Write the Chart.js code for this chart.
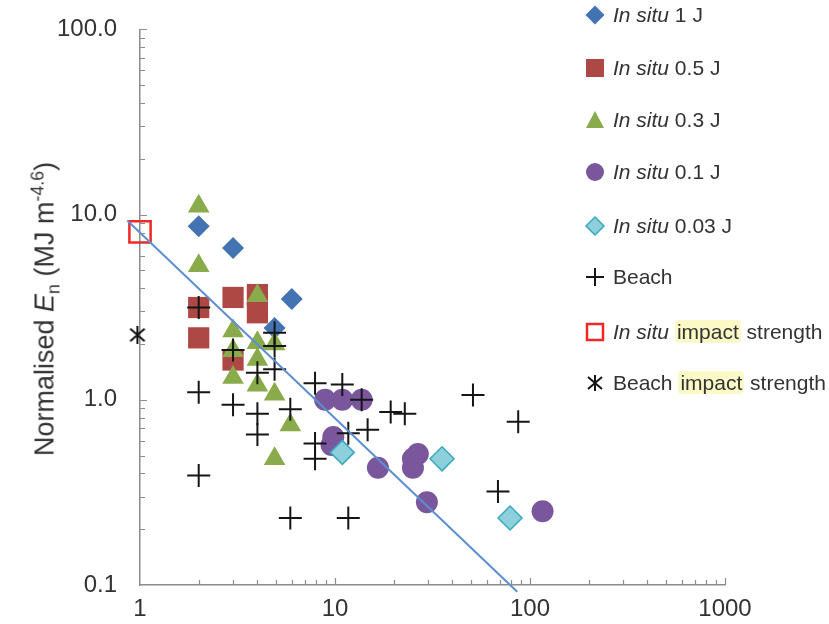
<!DOCTYPE html>
<html>
<head>
<meta charset="utf-8">
<script src="https://cdn.jsdelivr.net/npm/chart.js@4.4.1/dist/chart.umd.min.js"></script>
<style>
  html, body { margin: 0; padding: 0; background: #fff; }
  #wrap { position: relative; width: 829px; height: 624px; font-family: "Liberation Sans", Arial, sans-serif; color: #333; }
  #chart { position: absolute; left: 0; top: 0; }
  #ytitle { position: absolute; left: 45px; top: 309px; transform: translate(-50%, -50%) rotate(-90deg);
            white-space: nowrap; font-size: 27px; }
  #ytitle sub, #ytitle sup { font-size: 0.66em; line-height: 0; }
  #legend { position: absolute; left: 583px; top: 0; width: 246px; height: 400px; font-size: 21px; }
  .item { position: absolute; left: 0; height: 24px; display: flex; align-items: center; white-space: nowrap; }
  .item svg { width: 24px; height: 24px; margin-right: 6px; flex: none; }
  .hl { background: #fbf9c6; border-radius: 4px; padding: 0 2px; }
</style>
</head>
<body>
<div id="wrap">
  <canvas id="chart" width="829" height="624"></canvas>
  <div id="ytitle">Normalised <i>E</i><sub>n</sub> (MJ m<sup>-4.6</sup>)</div>
  <div id="legend"></div>
</div>
<script>
// axis ticks
const xTicks = [1, 10, 100, 1000];
const yTicks = [0.1, 1, 10, 100];

// in situ measurements by impact energy
const j1X = [2, 3, 6, 4.9];
const j1Y = [8.65, 6.6, 3.5, 2.44];
const j05X = [2, 2, 3, 3, 4, 4];
const j05Y = [3.15, 2.16, 3.57, 1.64, 3.7, 2.95];
const j03X = [2, 2, 3, 3, 3, 4, 4, 4, 4, 4.9, 4.9, 4.9, 5.9];
const j03Y = [11.1, 5.3, 2.35, 1.84, 1.32, 3.65, 2.03, 1.65, 1.2, 2.0, 1.07, 0.48, 0.73];
const j01X = [8.9, 10.9, 13.7, 9.8, 9.6, 16.6, 25.1, 26.6, 25.1, 29.6, 116];
const j01Y = [1.0, 1.0, 1.0, 0.63, 0.57, 0.43, 0.48, 0.51, 0.43, 0.28, 0.25];
const j003X = [10.9, 35.4, 79];
const j003Y = [0.52, 0.48, 0.23];

// beach measurements
const beachX = [2, 2, 2, 3, 3, 4, 4, 4, 4.9, 4.9, 4.9, 5.9, 5.9, 7.9, 7.9, 7.9,
                10.9, 11.7, 14.7, 11.7, 13.7, 19.3, 22.8, 51, 87, 68.5];
const beachY = [3.15, 1.1, 0.39, 1.86, 0.94, 1.40, 0.84, 0.65, 2.3, 1.95, 1.46, 0.89, 0.23, 1.23, 0.58, 0.48,
                1.21, 0.66, 0.69, 0.23, 1.0, 0.86, 0.84, 1.06, 0.76, 0.32];

// impact strengths
const inSituImpactX = [1];
const inSituImpactY = [8.07];
const beachImpactX = [0.97];
const beachImpactY = [2.24];

// fitted trend line end points
const trendX = [0.86, 86];
const trendY = [9.3, 0.092];

const FONT = '"Liberation Sans", Arial, sans-serif';

function pts(xs, ys) {
  return xs.map((x, i) => ({ x: x, y: ys[i] }));
}

// six-armed star marker for the beach impact point
function asteriskMarker(size) {
  const c = document.createElement('canvas');
  c.width = size; c.height = size;
  const g = c.getContext('2d');
  const m = size / 2, r = size / 2 - 1;
  g.strokeStyle = '#111';
  g.lineWidth = 2;
  g.beginPath();
  g.moveTo(m, m - r); g.lineTo(m, m + r);
  g.moveTo(m - r * 0.8, m - r * 0.7); g.lineTo(m + r * 0.8, m + r * 0.7);
  g.moveTo(m + r * 0.8, m - r * 0.7); g.lineTo(m - r * 0.8, m + r * 0.7);
  g.stroke();
  return c;
}

// short inward tick marks on both log axes
const innerTicks = {
  id: 'innerTicks',
  afterDatasetsDraw(chart) {
    const ctx = chart.ctx;
    const xs = chart.scales.x, ys = chart.scales.y;
    const area = chart.chartArea;
    ctx.save();
    ctx.strokeStyle = '#8c8c8c';
    ctx.lineWidth = 1.2;
    ctx.beginPath();
    for (let d = 1; d <= 100; d *= 10) {
      for (let k = 2; k <= 10; k++) {
        const px = Math.round(xs.getPixelForValue(k * d)) + 0.5;
        const len = k === 10 ? 7 : 5;
        ctx.moveTo(px, area.bottom);
        ctx.lineTo(px, area.bottom - len);
      }
    }
    for (let d = 0.1; d <= 10.01; d *= 10) {
      for (let k = 2; k <= 10; k++) {
        const py = Math.round(ys.getPixelForValue(k * d)) + 0.5;
        const len = k === 10 ? 7 : 5;
        ctx.moveTo(area.left, py);
        ctx.lineTo(area.left + len, py);
      }
    }
    ctx.stroke();
    ctx.restore();
  }
};

new Chart(document.getElementById('chart'), {
  type: 'scatter',
  data: {
    datasets: [
      {
        label: 'trend', data: pts(trendX, trendY), showLine: true, pointRadius: 0,
        borderColor: '#5b8fd0', borderWidth: 2, order: 0, clip: false
      },
      {
        label: 'Beach impact strength', data: pts(beachImpactX, beachImpactY),
        pointStyle: asteriskMarker(20), order: 1, clip: false
      },
      {
        label: 'In situ impact strength', data: pts(inSituImpactX, inSituImpactY),
        pointStyle: 'rect', pointRadius: 15, backgroundColor: 'rgba(0,0,0,0)',
        borderColor: '#f02828', borderWidth: 2.5, order: 2, clip: false
      },
      {
        label: 'Beach', data: pts(beachX, beachY), pointStyle: 'cross', pointRadius: 11.5,
        borderColor: '#151515', borderWidth: 2, order: 3, clip: false
      },
      {
        label: 'In situ 0.03 J', data: pts(j003X, j003Y), pointStyle: 'rectRot', pointRadius: 12,
        backgroundColor: '#8dd0dc', borderColor: '#3aa8bf', borderWidth: 1.5, order: 4, clip: false
      },
      {
        label: 'In situ 0.1 J', data: pts(j01X, j01Y), pointStyle: 'circle', pointRadius: 11,
        backgroundColor: '#7a579c', borderColor: '#7a579c', borderWidth: 0, order: 5, clip: false
      },
      {
        label: 'In situ 0.3 J', data: pts(j03X, j03Y), pointStyle: 'triangle', pointRadius: 12.5,
        backgroundColor: '#8aab4b', borderColor: '#8aab4b', borderWidth: 0, order: 6, clip: false
      },
      {
        label: 'In situ 0.5 J', data: pts(j05X, j05Y), pointStyle: 'rect', pointRadius: 15,
        backgroundColor: '#ad4845', borderColor: '#ad4845', borderWidth: 0, order: 7, clip: false
      },
      {
        label: 'In situ 1 J', data: pts(j1X, j1Y), pointStyle: 'rectRot', pointRadius: 11,
        backgroundColor: '#4373b2', borderColor: '#4373b2', borderWidth: 0, order: 8, clip: false
      }
    ]
  },
  options: {
    responsive: false,
    animation: false,
    events: [],
    layout: { padding: { left: 0, top: 24, right: 104, bottom: 0 } },
    plugins: { legend: { display: false }, tooltip: { enabled: false } },
    scales: {
      x: {
        type: 'logarithmic', min: 1, max: 1000,
        afterBuildTicks: s => { s.ticks = xTicks.map(v => ({ value: v })); },
        afterFit: s => { s.height = 39; },
        ticks: {
          callback: v => String(v), autoSkip: false, maxRotation: 0, padding: 2,
          color: '#333', font: { family: FONT, size: 24 }
        },
        grid: { display: false },
        border: { color: '#8c8c8c', width: 1.5 }
      },
      y: {
        type: 'logarithmic', min: 0.1, max: 100,
        afterBuildTicks: s => { s.ticks = yTicks.map(v => ({ value: v })); },
        afterFit: s => { s.width = 140; },
        ticks: {
          callback: v => Number(v).toFixed(1), autoSkip: false, padding: 15,
          color: '#333', font: { family: FONT, size: 24 }
        },
        grid: { display: false },
        border: { color: '#8c8c8c', width: 1.5 }
      }
    }
  },
  plugins: [innerTicks]
});

// legend entries
const legendItems = [
  { y: 15, html: '<i>In situ</i> 1 J',
    svg: '<polygon points="12,2.5 21.5,12 12,21.5 2.5,12" fill="#4373b2"/>' },
  { y: 68, html: '<i>In situ</i> 0.5 J',
    svg: '<rect x="3" y="3" width="18" height="18" fill="#ad4845"/>' },
  { y: 120, html: '<i>In situ</i> 0.3 J',
    svg: '<polygon points="12,3 21,20 3,20" fill="#8aab4b"/>' },
  { y: 172, html: '<i>In situ</i> 0.1 J',
    svg: '<circle cx="12" cy="12" r="9" fill="#7a579c"/>' },
  { y: 226, html: '<i>In situ</i> 0.03 J',
    svg: '<polygon points="12,3 21,12 12,21 3,12" fill="#8dd0dc" stroke="#3aa8bf" stroke-width="1.5"/>' },
  { y: 277, html: 'Beach',
    svg: '<path d="M12 3V21M3 12H21" stroke="#151515" stroke-width="2"/>' },
  { y: 332, html: '<i>In situ</i> <span class="hl">impact</span> strength',
    svg: '<rect x="4" y="4" width="16" height="16" fill="none" stroke="#f02828" stroke-width="2.5"/>' },
  { y: 383, html: 'Beach <span class="hl">impact</span> strength',
    svg: '<path d="M12 4V20M5 6L19 18M19 6L5 18" stroke="#151515" stroke-width="2"/>' }
];

const legend = document.getElementById('legend');
legendItems.forEach(item => {
  const div = document.createElement('div');
  div.className = 'item';
  div.style.top = (item.y - 12) + 'px';
  div.innerHTML = '<svg viewBox="0 0 24 24">' + item.svg + '</svg><span>' + item.html + '</span>';
  legend.appendChild(div);
});
</script>
</body>
</html>
